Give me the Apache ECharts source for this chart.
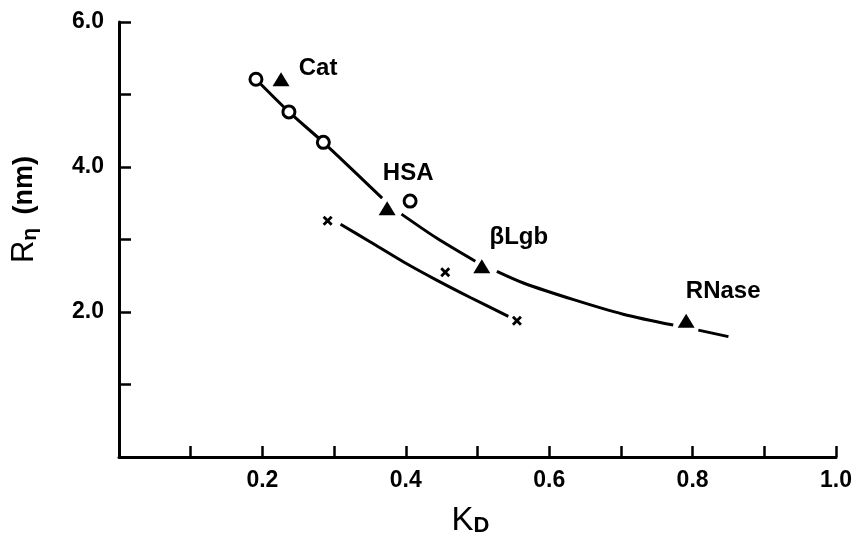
<!DOCTYPE html>
<html>
<head>
<meta charset="utf-8">
<script src="https://cdn.jsdelivr.net/npm/echarts@6/dist/echarts.min.js"></script>
<style>html,body{margin:0;padding:0;background:#fff}#c{width:856px;height:537px}</style>
</head>
<body>
<div id="c"></div>
<script>
// ---- data ----
const circleKD = [0.191, 0.237, 0.285, 0.406];
const circleR  = [5.21, 4.76, 4.34, 3.53];

const proteinNames = ['Cat', 'HSA', 'βLgb', 'RNase'];
const triangleKD = [0.226, 0.374, 0.506, 0.791];
const triangleR  = [5.21, 3.43, 2.63, 1.88];

const crossKD = [0.291, 0.455, 0.555];
const crossR  = [3.26, 2.55, 1.88];

// hand-drawn curves (null = pen gap)
const upperCurveKD = [0.191, 0.237, 0.285, 0.367, null, 0.394, 0.443, 0.497, null, 0.527, 0.564, 0.634, 0.703, 0.773, null, 0.808, 0.850];
const upperCurveR  = [5.21, 4.76, 4.34, 3.57, null, 3.35, 3.02, 2.70, null, 2.56, 2.40, 2.17, 1.97, 1.82, null, 1.75, 1.66];
const lowerCurveKD = [0.309, 0.350, 0.397, 0.443, 0.490, 0.543];
const lowerCurveR  = [3.21, 2.97, 2.69, 2.44, 2.20, 1.94];

const xTicks = [0.2, 0.4, 0.6, 0.8, 1.0];
const yTicks = [2.0, 4.0, 6.0];

// ---- layout/style (not data) ----
const labelOffsets = [[37, -11], [21, -35], [37, -29], [37, -29]];
const FONT = 'Liberation Sans';

const zip = (a, b) => a.map((v, i) => (v === null ? [null, null] : [v, b[i]]));
const near = (v, list) => list.some(t => Math.abs(t - v) < 1e-6);

const crossPath = 'path://M0,2 L2,0 L5,3 L8,0 L10,2 L7,5 L10,8 L8,10 L5,7 L2,10 L0,8 L3,5 Z';

const chart = echarts.init(document.getElementById('c'), null, {renderer: 'canvas'});
chart.setOption({
  animation: false,
  backgroundColor: '#fff',
  grid: {left: 119, right: 20, top: 22, bottom: 80, containLabel: false, outerBoundsMode: 'none'},
  xAxis: {
    type: 'value', min: 0, max: 1.0, interval: 0.1,
    name: '{k|K}{d|D}', nameLocation: 'middle', nameGap: 47,
    nameTextStyle: {
      padding: [0, 14, 0, 0],
      rich: {
        k: {fontFamily: FONT, fontSize: 33, color: '#000', verticalAlign: 'top'},
        d: {fontFamily: FONT, fontSize: 22, color: '#000', fontWeight: 'bold', padding: [11, 0, 0, 0]}
      }
    },
    axisLine: {show: true, lineStyle: {color: '#000', width: 3}},
    axisTick: {show: true, inside: true, length: 11, lineStyle: {color: '#000', width: 2.5}},
    axisLabel: {
      margin: 12, color: '#000', fontFamily: FONT, fontSize: 23, fontWeight: 'bold',
      formatter: v => (near(v, xTicks) ? v.toFixed(1) : '')
    },
    splitLine: {show: false}
  },
  yAxis: {
    type: 'value', min: 0, max: 6.0, interval: 1.0,
    name: '{r|R}{e|η}    {n|(nm)}', nameLocation: 'middle', nameGap: 78, nameRotate: 90,
    nameTextStyle: {
      padding: [0, 0, 0, 60],
      rich: {
        r: {fontFamily: FONT, fontSize: 31, color: '#000'},
        e: {fontFamily: FONT, fontSize: 21, color: '#000', fontWeight: 'bold', padding: [12, 0, 0, 0]},
        n: {fontFamily: FONT, fontSize: 27, color: '#000', fontWeight: 'bold'}
      }
    },
    axisLine: {show: true, lineStyle: {color: '#000', width: 3}},
    axisTick: {show: true, inside: true, length: 12, lineStyle: {color: '#000', width: 2.5}},
    axisLabel: {
      margin: 15, color: '#000', fontFamily: FONT, fontSize: 23, fontWeight: 'bold',
      formatter: v => (near(v, yTicks) ? v.toFixed(1) : '')
    },
    splitLine: {show: false}
  },
  series: [
    {
      type: 'line', data: zip(upperCurveKD, upperCurveR), smooth: 0.3, connectNulls: false,
      showSymbol: false, symbol: 'none', z: 1,
      lineStyle: {color: '#000', width: 3}
    },
    {
      type: 'line', data: zip(lowerCurveKD, lowerCurveR), smooth: 0.3,
      showSymbol: false, symbol: 'none', z: 1,
      lineStyle: {color: '#000', width: 3}
    },
    {
      type: 'scatter', data: zip(circleKD, circleR), symbol: 'circle', symbolSize: 12, z: 3,
      itemStyle: {color: '#fff', borderColor: '#000', borderWidth: 3, opacity: 1}
    },
    {
      type: 'scatter', symbol: 'triangle', symbolSize: [17, 14], z: 3,
      itemStyle: {color: '#000', opacity: 1},
      data: triangleKD.map((x, i) => ({
        value: [x, triangleR[i]],
        label: {
          show: true, formatter: proteinNames[i], position: 'inside', offset: labelOffsets[i],
          align: 'center', verticalAlign: 'middle',
          color: '#000', fontFamily: FONT, fontSize: 24, fontWeight: 'bold'
        }
      }))
    },
    {
      type: 'scatter', data: zip(crossKD, crossR), symbol: crossPath, symbolSize: 10, z: 3,
      itemStyle: {color: '#000', opacity: 1}
    }
  ]
});
</script>
</body>
</html>
